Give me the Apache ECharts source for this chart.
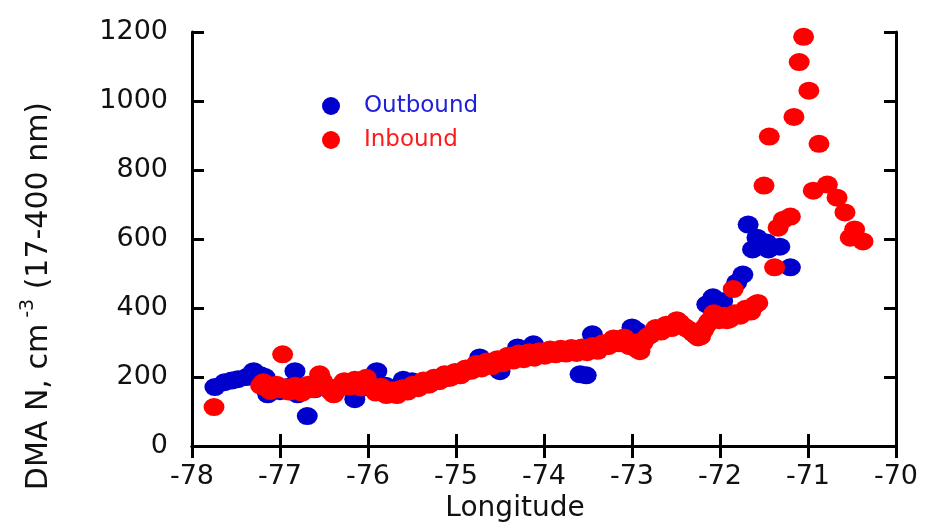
<!DOCTYPE html>
<html>
<head>
<meta charset="utf-8">
<script src="https://cdn.jsdelivr.net/npm/echarts@6/dist/echarts.min.js"></script>
<style>html,body{margin:0;padding:0;background:#fff}#c{width:929px;height:528px}</style>
</head>
<body>
<div id="c"></div>
<script>
// Axis ticks
const xTicks = [-78, -77, -76, -75, -74, -73, -72, -71, -70];
const yTicks = [0, 200, 400, 600, 800, 1000, 1200];

// Outbound: [longitude, DMA N]
const outbound = [
  [-77.74,171],[-77.63,185],[-77.55,190],[-77.48,194],[-77.38,200],[-77.3,217],[-77.22,205],
  [-77.17,200],[-77.14,150],[-77.0,159],[-76.9,172],[-76.83,217],[-76.8,150],[-76.69,87],
  [-76.6,165],[-76.5,172],[-76.4,168],[-76.3,175],[-76.15,136],[-76.05,170],[-75.9,217],
  [-75.8,175],[-75.6,192],[-75.5,188],[-75.3,180],[-75.1,198],[-74.9,215],[-74.73,257],
  [-74.6,240],[-74.5,217],[-74.4,250],[-74.3,286],[-74.12,295],[-74.0,270],[-73.8,272],
  [-73.59,208],[-73.52,205],[-73.45,324],[-73.3,295],[-73.0,344],[-72.95,335],[-72.15,411],
  [-72.08,431],[-71.97,420],[-71.81,474],[-71.74,497],[-71.68,642],[-71.63,570],[-71.58,604],
  [-71.47,590],[-71.45,570],[-71.32,578],[-71.2,518]
];

// Inbound: [longitude, DMA N]
const inbound = [
  [-77.75,113],[-77.22,175],[-77.19,185],[-77.15,168],[-77.11,160],[-77.08,172],[-77.04,178],
  [-77.0,165],[-76.97,266],[-76.93,170],[-76.9,158],[-76.86,160],[-76.83,175],[-76.79,168],
  [-76.75,155],[-76.72,162],[-76.68,178],[-76.65,170],[-76.62,165],[-76.58,185],[-76.55,208],
  [-76.52,190],[-76.48,175],[-76.45,165],[-76.42,158],[-76.39,150],[-76.36,162],[-76.33,168],
  [-76.3,172],[-76.27,188],[-76.24,180],[-76.21,172],[-76.18,185],[-76.15,192],[-76.12,178],
  [-76.08,170],[-76.05,192],[-76.02,198],[-76.0,180],[-75.97,172],[-75.94,168],[-75.91,155],
  [-75.88,162],[-75.85,172],[-75.82,165],[-75.79,148],[-75.76,155],[-75.73,162],[-75.7,150],
  [-75.67,148],[-75.64,158],[-75.61,168],[-75.58,165],[-75.55,158],[-75.52,168],[-75.49,178],
  [-75.46,172],[-75.43,168],[-75.4,180],[-75.37,190],[-75.34,186],[-75.31,178],[-75.28,190],
  [-75.25,198],[-75.22,195],[-75.19,188],[-75.16,200],[-75.13,208],[-75.1,205],[-75.07,198],
  [-75.04,208],[-75.01,215],[-74.98,212],[-74.95,205],[-74.92,215],[-74.89,225],[-74.86,222],
  [-74.83,218],[-74.8,228],[-74.77,238],[-74.74,232],[-74.71,225],[-74.68,236],[-74.65,245],
  [-74.62,238],[-74.59,232],[-74.56,242],[-74.53,252],[-74.5,246],[-74.47,240],[-74.44,250],
  [-74.41,262],[-74.38,255],[-74.35,248],[-74.32,258],[-74.29,268],[-74.26,262],[-74.23,252],
  [-74.2,258],[-74.17,272],[-74.14,262],[-74.11,256],[-74.08,266],[-74.05,275],[-74.02,270],
  [-73.99,262],[-73.96,268],[-73.93,280],[-73.9,272],[-73.87,266],[-73.84,274],[-73.81,282],
  [-73.78,276],[-73.75,268],[-73.72,274],[-73.69,284],[-73.66,278],[-73.63,270],[-73.6,276],
  [-73.57,286],[-73.54,280],[-73.51,272],[-73.48,278],[-73.45,290],[-73.42,282],[-73.39,276],
  [-73.36,285],[-73.33,298],[-73.3,290],[-73.27,290],[-73.24,300],[-73.21,312],[-73.18,305],
  [-73.15,298],[-73.12,310],[-73.09,315],[-73.06,300],[-73.03,290],[-73.0,290],[-72.97,300],
  [-72.94,280],[-72.91,275],[-72.88,298],[-72.85,310],[-72.82,318],[-72.79,322],[-72.76,330],
  [-72.73,342],[-72.7,338],[-72.67,332],[-72.64,342],[-72.61,352],[-72.58,348],[-72.55,342],
  [-72.52,355],[-72.49,365],[-72.46,358],[-72.43,350],[-72.4,345],[-72.37,340],[-72.34,335],
  [-72.31,328],[-72.28,322],[-72.25,315],[-72.22,318],[-72.19,335],[-72.16,348],[-72.13,360],
  [-72.1,368],[-72.07,385],[-72.04,380],[-72.01,365],[-71.98,372],[-71.95,378],[-71.92,365],
  [-71.89,368],[-71.86,375],[-71.85,455],[-71.83,385],[-71.8,380],[-71.77,378],[-71.74,388],
  [-71.71,398],[-71.68,395],[-71.65,390],[-71.62,405],[-71.6,410],[-71.57,415],
  [-71.5,755],[-71.44,897],[-71.38,518],[-71.34,633],[-71.28,656],[-71.2,665],[-71.16,954],
  [-71.1,1113],[-71.05,1186],[-70.99,1030],[-70.94,740],[-70.875,876],[-70.78,758],
  [-70.67,720],[-70.58,677],[-70.52,604],[-70.47,628],[-70.375,593]
];

const seriesNames = ['Outbound', 'Inbound'];
const xName = 'Longitude';

const FONT = 'DejaVu Sans';
const chart = echarts.init(document.getElementById('c'), null, {renderer: 'canvas'});

const axisLineStyle = {lineStyle: {color: '#000', width: 3}};
const tickStyle = {show: true, inside: true, length: 12, lineStyle: {color: '#000', width: 3}};
const xMin = xTicks[0], xMax = xTicks[xTicks.length - 1];
const yMin = yTicks[0], yMax = yTicks[yTicks.length - 1];
const plain = v => String(v);

chart.setOption({
  animation: false,
  backgroundColor: '#fff',
  grid: {left: 192, right: 33, top: 32, bottom: 81, containLabel: false},
  legend: {
    orient: 'vertical',
    left: 317,
    top: 87,
    itemWidth: 20,
    itemHeight: 18,
    itemGap: 6,
    data: [
      {name: seriesNames[0], icon: 'circle', textStyle: {color: '#2020d8'}},
      {name: seriesNames[1], icon: 'circle', textStyle: {color: '#ff1a1a'}}
    ],
    textStyle: {fontFamily: FONT, fontSize: 23, lineHeight: 28, padding: [0, 0, 0, 18]}
  },
  xAxis: [
    {
      type: 'value', min: xMin, max: xMax, interval: 1, position: 'bottom',
      name: xName, nameLocation: 'middle', nameGap: 44,
      nameTextStyle: {fontFamily: FONT, fontSize: 28, color: '#111', padding: [0, 58, 0, 0]},
      axisLine: axisLineStyle, axisTick: tickStyle,
      axisLabel: {fontFamily: FONT, fontSize: 27, color: '#111', margin: 17, formatter: plain},
      splitLine: {show: false}
    },
    {
      type: 'value', min: xMin, max: xMax, interval: 1, position: 'top',
      axisLine: axisLineStyle, axisTick: tickStyle,
      axisLabel: {show: false}, splitLine: {show: false}
    }
  ],
  yAxis: [
    {
      type: 'value', min: yMin, max: yMax, interval: 200, position: 'left',
      name: '{a|DMA N, cm}{s| -3}{a| (17-400 nm)}',
      nameLocation: 'middle', nameGap: 133, nameRotate: 90,
      nameTextStyle: {
        fontFamily: FONT, color: '#111', padding: [0, 114, 0, 0],
        rich: {
          a: {fontFamily: FONT, fontSize: 30, color: '#111', lineHeight: 40},
          s: {fontFamily: FONT, fontSize: 19, color: '#111', lineHeight: 40, verticalAlign: 'top'}
        }
      },
      axisLine: axisLineStyle, axisTick: tickStyle,
      axisLabel: {fontFamily: FONT, fontSize: 27, color: '#111', margin: 24, padding: [0, 0, 16, 0], formatter: plain},
      splitLine: {show: false}
    },
    {
      type: 'value', min: yMin, max: yMax, interval: 200, position: 'right',
      axisLine: axisLineStyle, axisTick: tickStyle,
      axisLabel: {show: false}, splitLine: {show: false}
    }
  ],
  series: [
    {
      name: seriesNames[0], type: 'scatter', data: outbound,
      symbol: 'circle', symbolSize: [21, 18],
      itemStyle: {color: '#0000cc', opacity: 1}
    },
    {
      name: seriesNames[1], type: 'scatter', data: inbound,
      symbol: 'circle', symbolSize: [21, 18],
      itemStyle: {color: '#ff0000', opacity: 1}
    }
  ]
});
</script>
</body>
</html>
